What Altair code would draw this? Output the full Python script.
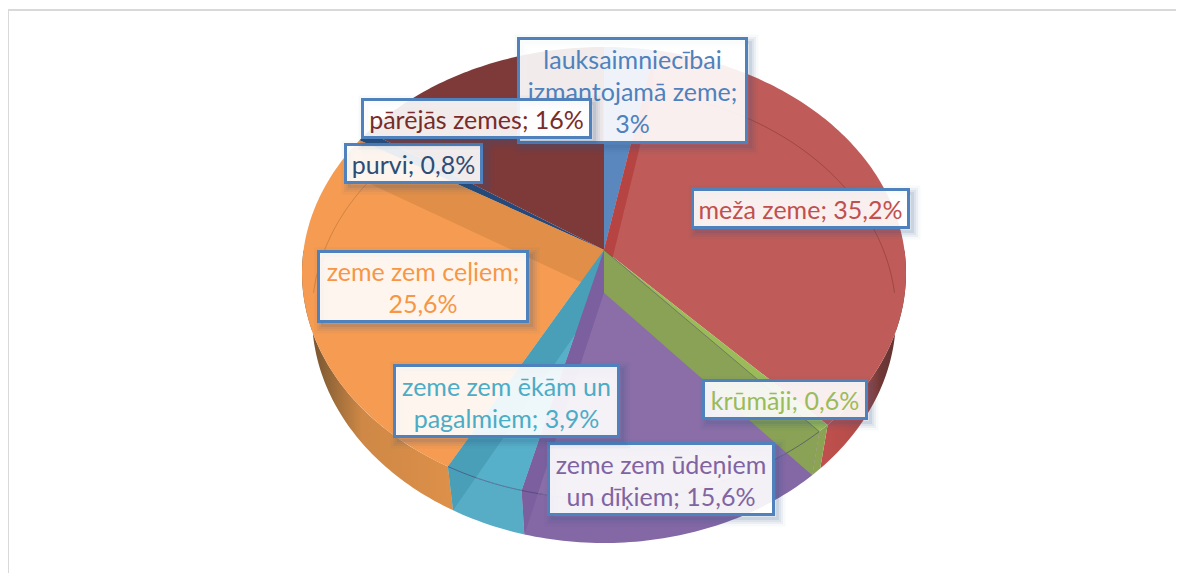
import math
import altair as alt
import pandas as pd

# ---- data ----
names = ["lauksaimniecībai izmantojamā zeme", "meža zeme", "krūmāji", "zeme zem ūdeņiem un dīķiem",
         "zeme zem ēkām un pagalmiem", "zeme zem ceļiem", "purvi", "pārējās zemes"]
shares = [3.0, 35.2, 0.6, 15.6, 3.9, 26.0, 0.8, 15.7]
top_colors = ["#5a87be", "#bf5b58", "#9bbb59", "#8b6ea8", "#57b0c9", "#f59b52", "#24497a", "#7e3939"]

label_texts = ["lauksaimniecībai\nizmantojamā zeme;\n3%", "meža zeme; 35,2%", "krūmāji; 0,6%",
               "zeme zem ūdeņiem\nun dīķiem; 15,6%", "zeme zem ēkām un\npagalmiem; 3,9%",
               "zeme zem ceļiem;\n25,6%", "purvi; 0,8%", "pārējās zemes; 16%"]
label_colors = ["#4f81bd", "#c0504d", "#9bbb59", "#8064a2", "#4bacc6", "#f79646", "#2c4d75", "#772c2a"]
label_left = [517, 691, 702, 547, 393, 317, 344, 361]
label_right = [748, 910, 868, 775, 620, 529, 483, 592]
label_top = [37, 188, 379, 442, 364, 250, 143, 98]
label_bottom = [144, 229, 420, 516, 438, 323, 184, 139]

# ---- pie geometry (perspective view of a disc, lower face slightly smaller) ----
CX, CY, A, B, TILT = 604.0, 273.0, 302.0, 226.0, 0.102
CY_LOW, A_LOW, B_LOW = 316.0, 292.0, 227.0
total = sum(shares)
cum = [0.0]
for v in shares:
    cum.append(cum[-1] + v)
angle = [c / total * 360.0 for c in cum]


def rim(deg, low=False):
    t = math.radians(deg)
    u, v = math.sin(t), math.cos(t)
    d = 1 + TILT * v
    a, b, cy = (A_LOW, B_LOW, CY_LOW) if low else (A, B, CY)
    return [CX + a * u * math.sqrt(1 - TILT ** 2) / d, cy - b * (v + TILT) / d]


apex = [CX, CY - B * TILT]
apex_low = [CX, CY_LOW - B_LOW * TILT]


def arc(d0, d1, low=False):
    n = max(2, int(abs(d1 - d0)) + 2)
    return [rim(d0 + (d1 - d0) * i / (n - 1), low) for i in range(n)]


PROJ = dict(type="identity", scale=1, translate=[-8, -8], reflectY=False)


def shape(points, closed=True, **mark):
    if closed:
        geom = {"type": "Polygon", "coordinates": [points + [points[0]]]}
    else:
        geom = {"type": "LineString", "coordinates": points}
    feat = {"type": "Feature", "properties": {}, "geometry": geom}
    return alt.Chart(alt.Data(values=[feat])).mark_geoshape(**mark).project(**PROJ)


layers = []

xs = alt.Scale(domain=[8, 1176], nice=False, zero=False)
ys = alt.Scale(domain=[8, 573], reverse=True, nice=False, zero=False)


def box(x0, x1, y0, y1, **mark):
    df = pd.DataFrame({"x0": [x0], "x1": [x1], "y0": [y0], "y1": [y1]})
    return alt.Chart(df).mark_rect(**mark).encode(
        x=alt.X("x0:Q", scale=xs, axis=None), x2="x1:Q",
        y=alt.Y("y0:Q", scale=ys, axis=None), y2="y1:Q")


# frame
layers.append(box(8, 1176, 9, 11, fill="#d9d9d9"))
layers.append(box(8, 9, 9, 573, fill="#d9d9d9"))


def grad(stops):
    return alt.Gradient(gradient="linear", x1=0, x2=1, y1=0, y2=0,
                        stops=[alt.GradientStop(offset=o, color=c) for o, c in stops])


# outer side faces
side_fill = {
    1: grad([(0, "#c0504d"), (0.5, "#b34c49"), (0.7, "#703837"), (1, "#5a3030")]),
    2: "#8ba352",
    3: "#8467a5",
    4: "#57adc6",
    5: grad([(0, "#6b4a2e"), (0.15, "#8c6236"), (0.4, "#cf8846"), (1, "#dd9049")]),
}
for i, fill in side_fill.items():
    d0, d1 = max(angle[i], 90.0), min(angle[i + 1], 270.0)
    layers.append(shape(arc(d0, d1) + arc(d1, d0, True), fill=fill, stroke=None))

# top faces
for i, c in enumerate(top_colors):
    layers.append(shape([apex] + arc(angle[i], angle[i + 1]), fill=c, stroke=None))


def wall(deg, color):
    return shape([apex, apex_low, rim(deg, True), rim(deg)], fill=color, stroke=None)


# radial walls seen through the glassy top
layers.append(wall(angle[6], "#e08e48"))
layers.append(wall(angle[1], "#b54442"))
layers.append(wall(angle[5], "#4a9fb8"))
layers.append(wall(angle[4], "#7b5f9e"))
layers.append(wall(angle[3], "#8aa255"))

# thin rim lines
layers.append(shape(arc(15, 90, True), closed=False, filled=False, stroke="#7a2f2d", strokeOpacity=0.45, strokeWidth=1))
layers.append(shape(arc(270, angle[6], True), closed=False, filled=False, stroke="#a8662c", strokeOpacity=0.45, strokeWidth=1))
layers.append(shape(arc(angle[3], angle[5]), closed=False, filled=False, stroke="#3f3f6f", strokeOpacity=0.6, strokeWidth=1))
layers.append(shape([apex, rim(angle[3])], closed=False, filled=False, stroke="#55604a", strokeOpacity=0.6, strokeWidth=1))

LINE_H = 32
# data labels
for i in range(len(label_texts)):
    x0, x1, y0, y1 = label_left[i] + 1.5, label_right[i] - 1.5, label_top[i] + 1.5, label_bottom[i] - 1.5
    for sw, op in [(16, 0.04), (11, 0.06), (7, 0.08), (3, 0.1)]:
        layers.append(box(x0 + 4, x1 + 4, y0 + 4, y1 + 4, fill="#355a8c", fillOpacity=0.0,
                          stroke="#355a8c", strokeOpacity=op, strokeWidth=sw))
    layers.append(box(x0, x1, y0, y1, fill="#ffffff", fillOpacity=0.9, stroke="#4f81bd", strokeWidth=3))
    lines = label_texts[i].split("\n")
    mid = (y0 + y1) / 2 + 2.5
    tx = pd.DataFrame({"x": [(x0 + x1) / 2] * len(lines),
                       "y": [mid + (j - (len(lines) - 1) / 2) * LINE_H for j in range(len(lines))],
                       "t": lines})
    layers.append(alt.Chart(tx).mark_text(font="Lato", fontSize=25, color=label_colors[i],
                                          align="center", baseline="middle").encode(
        x=alt.X("x:Q", scale=xs, axis=None), y=alt.Y("y:Q", scale=ys, axis=None), text="t:N"))

chart = alt.layer(*layers).properties(width=1168, height=565, padding=0, autosize="none",
                                      background="white").configure_view(stroke=None)
chart.save("out.html", embed_options={"renderer": "svg", "actions": False})
